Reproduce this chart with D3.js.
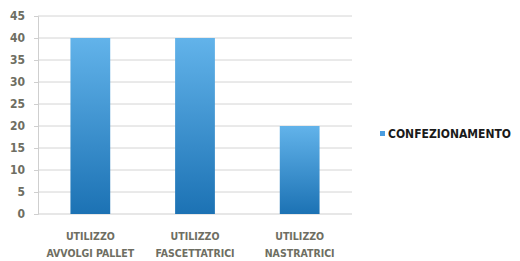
<!DOCTYPE html>
<html>
<head>
<meta charset="utf-8">
<script src="https://cdn.jsdelivr.net/npm/d3@7"></script>
<style>
  body { margin: 0; background: #fff; }
  svg text { font-family: "DejaVu Sans Condensed", "Liberation Sans Narrow", sans-serif; font-weight: bold; }
</style>
</head>
<body>
<div id="chart"></div>
<script>
// data
const categories = [["UTILIZZO", "AVVOLGI PALLET"], ["UTILIZZO", "FASCETTATRICI"], ["UTILIZZO", "NASTRATRICI"]];
const values = [40, 40, 20];
const seriesName = "CONFEZIONAMENTO";
const yTicks = [0, 5, 10, 15, 20, 25, 30, 35, 40, 45];

const margin = {top: 16, right: 168, bottom: 47, left: 38};
const W = 520, H = 261;
const width = W - margin.left - margin.right;
const height = H - margin.top - margin.bottom;

const svg = d3.select("#chart").append("svg")
    .attr("width", W).attr("height", H);

const defs = svg.append("defs");
const grad = defs.append("linearGradient")
    .attr("id", "barGrad").attr("x1", 0).attr("y1", 0).attr("x2", 0).attr("y2", 1);
grad.append("stop").attr("offset", "0%").attr("stop-color", "#62b3ea");
grad.append("stop").attr("offset", "100%").attr("stop-color", "#1c72b4");

const g = svg.append("g").attr("transform", "translate(" + margin.left + "," + margin.top + ")");

const xScale = d3.scaleBand()
    .domain(categories.map((c, i) => i))
    .range([0, width])
    .paddingInner(0.62).paddingOuter(0.31);
const yScale = d3.scaleLinear().domain([0, 45]).range([height, 0]);

// gridlines
g.append("g").selectAll("line")
    .data(yTicks.filter(t => t > 0))
    .join("line")
    .attr("x1", 0).attr("x2", width)
    .attr("y1", d => yScale(d)).attr("y2", d => yScale(d))
    .attr("stroke", "#d4d4d4").attr("stroke-width", 1);

// y axis
const leftAxis = d3.axisLeft(yScale).tickValues(yTicks).tickSize(4).tickPadding(9);
const yAxisG = g.append("g").call(leftAxis);
yAxisG.select(".domain").attr("stroke", "#cfcfcf");
yAxisG.selectAll(".tick line").attr("stroke", "#cfcfcf");
yAxisG.selectAll(".tick text").attr("fill", "#6e6e62").style("font-size", "12px");

// x baseline
g.append("line")
    .attr("x1", 0).attr("x2", width)
    .attr("y1", height).attr("y2", height)
    .attr("stroke", "#cfcfcf");

// bars
g.selectAll(".bar")
    .data(values)
    .join("rect")
    .attr("class", "bar")
    .attr("x", (d, i) => xScale(i))
    .attr("width", xScale.bandwidth())
    .attr("y", d => yScale(d))
    .attr("height", d => height - yScale(d))
    .attr("fill", "url(#barGrad)");

// category labels
const labG = g.append("g");
categories.forEach((lines, i) => {
    const cx = xScale(i) + xScale.bandwidth() / 2;
    const t = labG.append("text")
        .attr("x", cx)
        .attr("y", height + 26)
        .attr("text-anchor", "middle")
        .attr("fill", "#6e6e62")
        .style("font-size", "10.5px");
    lines.forEach((ln, k) => {
        t.append("tspan").attr("x", cx)
            .attr("dy", k === 0 ? 0 : 17).text(ln);
    });
});

// legend
const leg = svg.append("g").attr("transform", "translate(380,134)");
leg.append("rect").attr("x", 0).attr("y", -3).attr("width", 5).attr("height", 5).attr("fill", "#4a9de0");
leg.append("text").attr("x", 8).attr("y", 0).attr("dy", "0.35em")
    .attr("fill", "#1a1a1a").style("font-size", "12px")
    .text(seriesName);
</script>
</body>
</html>
